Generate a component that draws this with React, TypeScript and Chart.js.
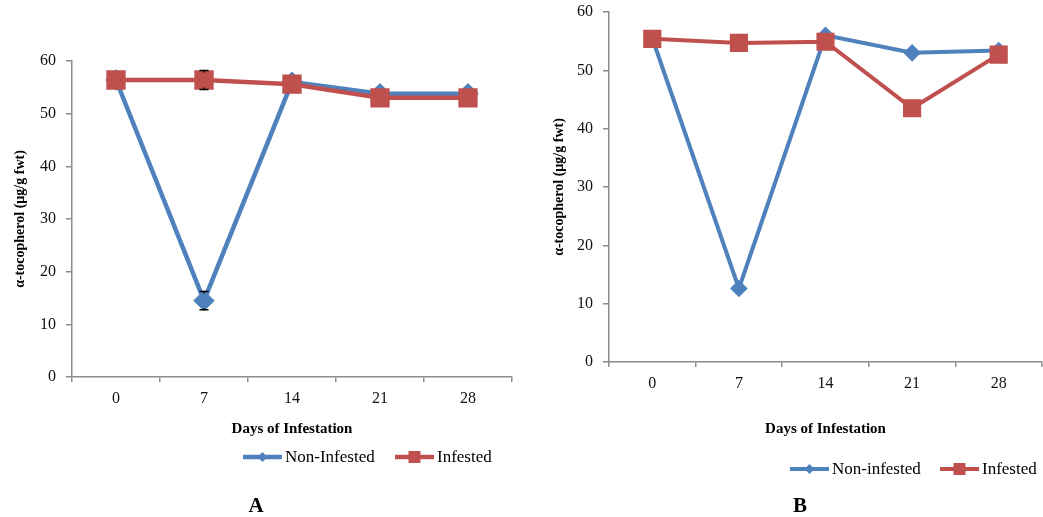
import React, { useEffect, useRef } from "react";
import { Chart, registerables } from "chart.js";

Chart.register(...registerables);

const days = ["0", "7", "14", "21", "28"];
const yTicks = [0, 10, 20, 30, 40, 50, 60];

const nonInfestedA = [56.4, 14.5, 56.0, 53.8, 53.8];
const infestedA = [56.4, 56.4, 55.6, 53.0, 53.0];
const nonInfestedErrA = [0, 1.75, 0, 0, 0];
const infestedErrA = [0, 1.8, 0, 0, 0];

const nonInfestedB = [55.5, 12.6, 56.0, 53.0, 53.4];
const infestedB = [55.4, 54.7, 54.9, 43.5, 52.7];

const BLUE = "#4F81BD";
const RED = "#C0504D";
const AXIS = "#8C8C8C";
const FONT = "'Liberation Serif', 'Times New Roman', serif";

const errorBarPlugin = {
  id: "errorBars",
  afterDatasetsDraw(chart: any) {
    const ctx = chart.ctx;
    chart.data.datasets.forEach((ds: any, i: number) => {
      if (!ds.errors) return;
      const meta = chart.getDatasetMeta(i);
      const yScale = chart.scales.y;
      const half =
        ds.pointStyle === "rect" ? ds.pointRadius * Math.SQRT1_2 : ds.pointRadius;
      meta.data.forEach((pt: any, j: number) => {
        const e = ds.errors[j];
        if (!e) return;
        const v = ds.data[j];
        const yTop = yScale.getPixelForValue(v + e);
        const yBot = yScale.getPixelForValue(v - e);
        ctx.save();
        ctx.strokeStyle = "#000";
        ctx.lineWidth = 1.5;
        ctx.beginPath();
        if (yTop < pt.y - half) {
          ctx.moveTo(pt.x, yTop);
          ctx.lineTo(pt.x, pt.y - half);
        }
        if (yBot > pt.y + half) {
          ctx.moveTo(pt.x, pt.y + half);
          ctx.lineTo(pt.x, yBot);
        }
        ctx.moveTo(pt.x - 4.5, yTop);
        ctx.lineTo(pt.x + 4.5, yTop);
        ctx.moveTo(pt.x - 4.5, yBot);
        ctx.lineTo(pt.x + 4.5, yBot);
        ctx.stroke();
        ctx.restore();
      });
    });
  },
};

const customLegendPlugin = {
  id: "customLegend",
  afterDraw(chart: any, _args: any, opts: any) {
    if (!opts || !opts.items) return;
    const ctx = chart.ctx;
    ctx.save();
    opts.items.forEach((it: any) => {
      const ds = chart.data.datasets[it.dataset];
      ctx.strokeStyle = ds.borderColor;
      ctx.lineWidth = ds.borderWidth;
      ctx.beginPath();
      ctx.moveTo(it.x, opts.y);
      ctx.lineTo(it.x + 39, opts.y);
      ctx.stroke();
      ctx.fillStyle = ds.pointBackgroundColor;
      ctx.beginPath();
      if (ds.pointStyle === "rectRot") {
        const r = it.r;
        const cx = it.x + 19.5;
        ctx.moveTo(cx, opts.y - r);
        ctx.lineTo(cx + r, opts.y);
        ctx.lineTo(cx, opts.y + r);
        ctx.lineTo(cx - r, opts.y);
        ctx.closePath();
      } else {
        const s = it.r;
        ctx.rect(it.x + 19.5 - s, opts.y - s, 2 * s, 2 * s);
      }
      ctx.fill();
      ctx.fillStyle = "#000";
      ctx.font = `17px ${FONT}`;
      ctx.textBaseline = "middle";
      ctx.textAlign = "left";
      ctx.fillText(ds.label, it.x + 42, opts.y + 1);
    });
    ctx.font = `bold 21px ${FONT}`;
    ctx.textAlign = "center";
    ctx.textBaseline = "middle";
    ctx.fillText(opts.panel, opts.panelX, opts.panelY);
    ctx.restore();
  },
};

function makeConfig(p: any) {
  return {
    type: "line",
    data: {
      labels: days,
      datasets: [
        {
          label: p.blueLabel,
          data: p.blue,
          errors: p.blueErr,
          borderColor: BLUE,
          backgroundColor: BLUE,
          pointBackgroundColor: BLUE,
          pointBorderColor: BLUE,
          pointStyle: "rectRot",
          pointRadius: p.diamondR,
          borderWidth: p.lineW,
          tension: 0,
          order: 1,
        },
        {
          label: "Infested",
          data: p.red,
          errors: p.redErr,
          borderColor: RED,
          backgroundColor: RED,
          pointBackgroundColor: RED,
          pointBorderColor: RED,
          pointStyle: "rect",
          pointRadius: p.squareR,
          borderWidth: p.lineW,
          tension: 0,
          order: 0,
        },
      ],
    },
    options: {
      responsive: false,
      animation: false,
      events: [],
      layout: { padding: p.padding, autoPadding: false },
      plugins: {
        legend: { display: false },
        tooltip: { enabled: false },
        customLegend: p.legend,
      },
      scales: {
        x: {
          offset: true,
          afterFit: (s: any) => {
            s.height = p.xH;
            s.paddingLeft = 0;
            s.paddingRight = 0;
          },
          grid: {
            offset: true,
            drawOnChartArea: false,
            drawTicks: true,
            tickLength: 5,
            color: AXIS,
            lineWidth: 1.5,
          },
          border: { display: true, color: AXIS, width: 1.5 },
          ticks: {
            color: "#111",
            padding: 7,
            font: { family: FONT, size: 16 },
            maxRotation: 0,
          },
          title: {
            display: true,
            text: "Days of Infestation",
            color: "#000",
            font: { family: FONT, size: 15, weight: "bold" },
            padding: { top: 0, bottom: 0 },
          },
        },
        y: {
          min: 0,
          max: 60,
          afterFit: (s: any) => {
            s.width = p.yW;
            s.paddingTop = 0;
            s.paddingBottom = 0;
          },
          afterBuildTicks: (s: any) => {
            s.ticks = yTicks.map((v) => ({ value: v }));
          },
          grid: {
            drawOnChartArea: false,
            drawTicks: true,
            tickLength: 6,
            color: AXIS,
            lineWidth: 1.5,
          },
          border: { display: true, color: AXIS, width: 1.5 },
          ticks: {
            color: "#111",
            padding: 10,
            font: { family: FONT, size: 16 },
          },
          title: {
            display: true,
            text: "α-tocopherol (µg/g fwt)",
            color: "#000",
            font: { family: FONT, size: 14, weight: "bold" },
            padding: { top: p.yTitlePad, bottom: 0 },
          },
        },
      },
    },
    plugins: [errorBarPlugin, customLegendPlugin],
  };
}

function Panel(props: any) {
  const ref = useRef<HTMLCanvasElement>(null);
  useEffect(() => {
    const chart = new Chart(ref.current as HTMLCanvasElement, makeConfig(props.cfg) as any);
    return () => chart.destroy();
  }, []);
  return (
    <div
      style={{
        position: "absolute",
        left: props.left,
        top: 0,
        width: props.width,
        height: 517,
      }}
    >
      <canvas ref={ref} width={props.width} height={517} style={{ display: "block" }} />
    </div>
  );
}

const cfgA = {
  blueLabel: "Non-Infested",
  blue: nonInfestedA,
  red: infestedA,
  blueErr: nonInfestedErrA,
  redErr: infestedErrA,
  diamondR: 7.5,
  squareR: 10.5,
  lineW: 4.5,
  padding: { left: 0, top: 61, right: 8, bottom: 79 },
  xH: 61,
  yW: 72,
  yTitlePad: 12,
  legend: {
    y: 457,
    items: [
      { dataset: 0, x: 243, r: 5 },
      { dataset: 1, x: 395, r: 6 },
    ],
    panel: "A",
    panelX: 256,
    panelY: 507,
  },
};

const cfgB = {
  blueLabel: "Non-infested",
  blue: nonInfestedB,
  red: infestedB,
  blueErr: null,
  redErr: null,
  diamondR: 6,
  squareR: 10,
  lineW: 4,
  padding: { left: 0, top: 12, right: 1, bottom: 79 },
  xH: 76,
  yW: 69,
  yTitlePad: 10.5,
  legend: {
    y: 469,
    items: [
      { dataset: 0, x: 790 - 540, r: 5 },
      { dataset: 1, x: 940 - 540, r: 6 },
    ],
    panel: "B",
    panelX: 800 - 540,
    panelY: 507,
  },
};

export default function App() {
  return (
    <div
      style={{
        position: "absolute",
        left: 0,
        top: 0,
        width: 1043,
        height: 517,
        background: "#fff",
        overflow: "hidden",
      }}
    >
      <Panel left={0} width={520} cfg={cfgA} />
      <Panel left={540} width={503} cfg={cfgB} />
    </div>
  );
}
